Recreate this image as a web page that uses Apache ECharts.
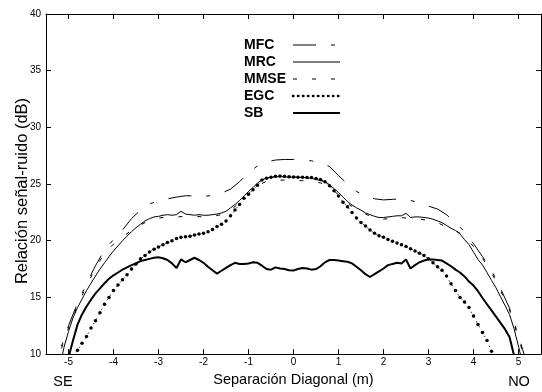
<!DOCTYPE html>
<html><head><meta charset="utf-8">
<script src="https://cdn.jsdelivr.net/npm/echarts@6/dist/echarts.min.js"></script>
<style>html,body{margin:0;padding:0;background:#fff}#c{width:542px;height:392px}</style>
</head><body><div id="c"></div>
<script>
// ---- data ----
const seriesNames = ['MFC', 'MRC', 'MMSE', 'EGC', 'SB'];
const xTicks = [-5, -4, -3, -2, -1, 0, 1, 2, 3, 4, 5];
const xTitle = 'Separación Diagonal (m)';
const yTitle = 'Relación señal-ruido (dB)';
const leftEnd = 'SE';
const rightEnd = 'NO';

const xFine = [
  -5.3,-5.2,-5.1,-5.0,-4.9,-4.8,-4.7,-4.6,-4.5,-4.4,
  -4.3,-4.2,-4.1,-4.0,-3.9,-3.8,-3.7,-3.6,-3.5,-3.4,
  -3.3,-3.2,-3.1,-3.0,-2.9,-2.8,-2.7,-2.6,-2.5,-2.4,
  -2.3,-2.2,-2.1,-2.0,-1.9,-1.8,-1.7,-1.6,-1.5,-1.4,
  -1.3,-1.2,-1.1,-1.0,-0.9,-0.8,-0.7,-0.6,-0.5,-0.4,
  -0.3,-0.2,-0.1,0.0,0.1,0.2,0.3,0.4,0.5,0.6,
  0.7,0.8,0.9,1.0,1.1,1.2,1.3,1.4,1.5,1.6,
  1.7,1.8,1.9,2.0,2.1,2.2,2.3,2.4,2.5,2.6,
  2.7,2.8,2.9,3.0,3.1,3.2,3.3,3.4,3.5,3.6,
  3.7,3.8,3.9,4.0,4.1,4.2,4.3,4.4,4.5,4.6,
  4.7,4.8,4.9,5.0,5.1,5.2,5.3
];
const xCoarse = [
  -5.4,-5.2,-5.0,-4.8,-4.6,-4.4,-4.2,-4.0,-3.8,-3.6,
  -3.4,-3.2,-3.0,-2.8,-2.6,-2.4,-2.2,-2.0,-1.8,-1.6,
  -1.4,-1.2,-1.0,-0.8,-0.6,-0.4,-0.2,0.0,0.2,0.4,
  0.6,0.8,1.0,1.2,1.4,1.6,1.8,2.0,2.2,2.4,
  2.6,2.8,3.0,3.2,3.4,3.6,3.8,4.0,4.2,4.4,
  4.6,4.8,5.0,5.2,5.4
];

// on xCoarse
const mfc = [
  7.5,10.2,12.5,14.5,16.2,17.8,19.2,20.1,20.95,21.95,
  22.7,23.25,23.5,23.7,23.85,23.97,23.95,23.9,24.0,24.2,
  24.55,25.2,26.0,26.6,26.95,27.12,27.17,27.17,27.12,27.05,
  26.85,26.55,25.75,25.0,24.35,23.95,23.7,23.6,23.65,23.7,
  23.55,23.35,23.05,22.8,22.3,21.6,20.8,19.75,18.6,17.4,
  15.8,14.05,11.6,9.0,6.0
];
const mmse = [
  7.3,10.0,12.3,14.3,16.0,17.6,18.9,19.7,20.35,20.9,
  21.4,21.8,22.0,22.1,22.1,22.15,22.15,22.1,22.15,22.3,
  22.7,23.35,24.15,24.85,25.25,25.35,25.35,25.3,25.3,25.25,
  25.1,24.75,24.05,23.3,22.75,22.35,22.0,21.9,22.0,22.05,
  21.95,21.9,21.8,21.6,21.2,20.9,20.4,19.5,18.45,17.2,
  15.6,13.9,11.4,8.8,6.0
];
// on xFine
const mrc = [
  7.0,8.7,10.6,12.0,13.2,14.1,14.85,15.6,16.25,16.9,
  17.5,18.05,18.6,19.1,19.55,20.0,20.4,20.8,21.15,21.45,
  21.75,21.95,22.1,22.15,22.25,22.3,22.25,22.3,22.6,22.35,
  22.3,22.25,22.3,22.25,22.25,22.3,22.35,22.45,22.6,22.9,
  23.2,23.55,23.95,24.35,24.7,25.1,25.35,25.55,25.6,25.63,
  25.65,25.63,25.6,25.6,25.6,25.58,25.55,25.5,25.4,25.3,
  25.2,24.95,24.6,24.25,23.85,23.45,23.15,22.9,22.7,22.45,
  22.3,22.15,22.05,22.05,22.1,22.15,22.2,22.2,22.42,22.05,
  22.1,22.1,22.05,22.0,21.9,21.75,21.6,21.35,21.1,20.9,
  20.6,20.1,19.65,19.0,18.35,17.85,17.2,16.5,15.85,15.05,
  14.3,13.5,12.25,10.7,9.0,7.8,6.8
];
const egc = [
  null,null,null,null,9.75,10.35,10.95,11.55,12.3,12.95,
  13.65,14.4,15.0,15.6,16.1,16.55,17.0,17.5,17.95,18.4,
  18.7,19.0,19.25,19.45,19.65,19.85,20.0,20.2,20.3,20.35,
  20.4,20.5,20.6,20.65,20.8,21.0,21.25,21.45,21.75,22.2,
  22.7,23.2,23.75,24.1,24.5,24.9,25.35,25.52,25.6,25.68,
  25.7,25.68,25.65,25.63,25.6,25.6,25.58,25.57,25.5,25.4,
  25.2,24.85,24.4,23.95,23.4,23.0,22.5,22.0,21.6,21.3,
  20.95,20.65,20.45,20.3,20.1,19.95,19.8,19.65,19.5,19.3,
  19.1,18.9,18.7,18.4,18.05,17.7,17.4,16.9,16.2,15.6,
  15.0,14.6,14.1,13.35,12.6,11.9,11.2,10.25,9.3,null,
  null,null,null,null,null,null,null
];
const sb = [
  6.5,7.4,8.2,9.7,11.2,12.6,13.5,14.2,14.8,15.35,
  15.8,16.25,16.65,16.95,17.2,17.45,17.65,17.85,18.0,18.2,
  18.3,18.4,18.5,18.55,18.45,18.3,18.0,17.6,18.35,18.1,
  18.3,18.5,18.3,18.05,17.7,17.4,17.1,17.35,17.6,17.85,
  18.05,17.95,17.95,18.0,18.1,18.05,17.8,17.5,17.45,17.65,
  17.55,17.5,17.4,17.38,17.5,17.6,17.55,17.45,17.5,17.75,
  18.1,18.3,18.3,18.25,18.2,18.15,18.0,17.7,17.4,17.05,
  16.8,17.05,17.3,17.55,17.85,17.95,18.05,18.0,18.35,17.55,
  17.85,18.1,18.25,18.35,18.35,18.3,18.25,18.0,17.75,17.45,
  17.2,16.85,16.4,16.05,15.55,14.95,14.4,13.85,13.3,12.75,
  12.2,11.5,9.9,8.3,7.0,6.0,5.0
];

// ---- chart ----
const FONT = '"Liberation Sans", Arial, Helvetica, sans-serif';
const pairs = (xs, ys) => xs.map((x, i) => ys[i] == null ? null : [x, ys[i]]).filter(p => p);
const legendLines = {
  MFC: { width: 1 },
  MRC: { width: 1 },
  MMSE: { width: 1 },
  EGC: { width: 2.6, type: [0.4, 4.6], cap: 'round' },
  SB: { width: 2 }
};

const axisCommon = {
  axisLine: { show: true, onZero: false, lineStyle: { color: '#000', width: 1 } },
  splitLine: { show: false }
};

const chart = echarts.init(document.getElementById('c'), null, { renderer: 'canvas' });
chart.setOption({
  animation: false,
  backgroundColor: '#fff',
  grid: { left: 46, right: 1, top: 14, bottom: 35 },
  legend: {
    orient: 'vertical', left: 244, top: 38, padding: 0,
    itemGap: 3, itemWidth: 47, itemHeight: 13, align: 'right',
    selectedMode: false,
    itemStyle: { opacity: 0 },
    data: seriesNames.map(n => ({ name: n, lineStyle: legendLines[n] })),
    formatter: n => '{t|' + n + '}',
    textStyle: {
      rich: { t: { width: 44, align: 'left', fontSize: 14, fontWeight: 'bold', fontFamily: FONT, color: '#000', lineHeight: 14 } }
    }
  },
  xAxis: [
    Object.assign({}, axisCommon, {
      type: 'value', min: -5.5, max: 5.5, position: 'bottom',
      axisTick: { show: true, inside: true, length: 5, customValues: xTicks, lineStyle: { color: '#000' } },
      axisLabel: { customValues: xTicks, color: '#000', fontSize: 10, fontFamily: FONT, margin: 3 },
      name: xTitle, nameLocation: 'middle', nameGap: 16,
      nameTextStyle: { fontSize: 14.5, color: '#000', fontFamily: FONT }
    }),
    Object.assign({}, axisCommon, {
      type: 'value', min: -5.5, max: 5.5, position: 'top',
      axisTick: { show: true, inside: true, length: 5, customValues: xTicks, lineStyle: { color: '#000' } },
      axisLabel: { show: false }
    })
  ],
  yAxis: [
    Object.assign({}, axisCommon, {
      type: 'value', min: 10, max: 40, interval: 5, position: 'left',
      axisTick: { show: true, inside: true, length: 5, lineStyle: { color: '#000' } },
      axisLabel: { color: '#000', fontSize: 10, fontFamily: FONT, margin: 5 }
    }),
    Object.assign({}, axisCommon, {
      type: 'value', min: 10, max: 40, interval: 5, position: 'right',
      axisTick: { show: true, inside: true, length: 5, lineStyle: { color: '#000' } },
      axisLabel: { show: false }
    })
  ],
  graphic: [
    { type: 'text', x: 22, y: 191, rotation: Math.PI / 2,
      style: { text: yTitle, font: '16.5px ' + FONT, fill: '#000', align: 'center', verticalAlign: 'middle' } },
    { type: 'text', x: 63, y: 382, style: { text: leftEnd, font: '14.5px ' + FONT, fill: '#000', align: 'center', verticalAlign: 'middle' } },
    { type: 'text', x: 519, y: 382, style: { text: rightEnd, font: '14.5px ' + FONT, fill: '#000', align: 'center', verticalAlign: 'middle' } }
  ],
  series: [
    { name: 'MFC', type: 'line', data: pairs(xCoarse, mfc), showSymbol: false, symbol: 'none',
      lineStyle: { color: '#000', width: 1, type: [23, 15, 4, 15] }, itemStyle: { color: '#000' } },
    { name: 'MRC', type: 'line', data: pairs(xFine, mrc), showSymbol: false, symbol: 'none',
      lineStyle: { color: '#000', width: 1 }, itemStyle: { color: '#000' } },
    { name: 'MMSE', type: 'line', data: pairs(xCoarse, mmse), showSymbol: false, symbol: 'none',
      lineStyle: { color: '#000', width: 1, type: [4, 15] }, itemStyle: { color: '#000' } },
    { name: 'EGC', type: 'line', data: pairs(xFine, egc), symbol: 'circle', symbolSize: 3.5, showAllSymbol: true,
      lineStyle: { color: '#000', width: 0.8, type: [1.5, 4] }, itemStyle: { color: '#000' } },
    { name: 'SB', type: 'line', data: pairs(xFine, sb), showSymbol: false, symbol: 'none',
      lineStyle: { color: '#000', width: 2 }, itemStyle: { color: '#000' } }
  ]
});
</script>
</body></html>
